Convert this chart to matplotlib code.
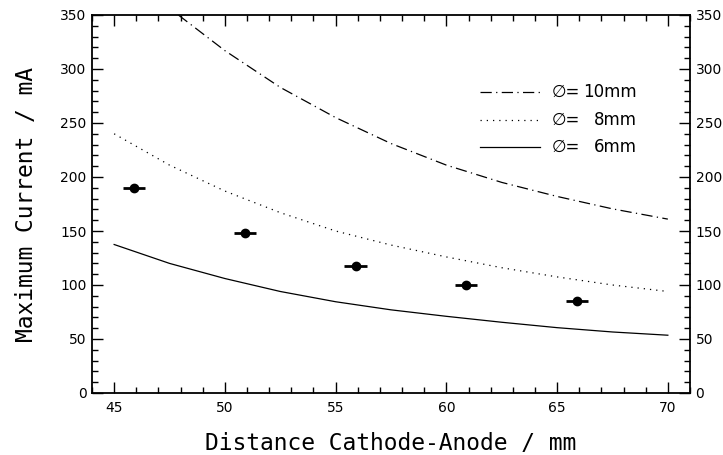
import matplotlib
matplotlib.use("Agg")
import matplotlib.pyplot as plt
from matplotlib.ticker import MultipleLocator

# Measured data points
meas_x = [45.9, 50.9, 55.9, 60.9, 65.9]
meas_y = [190, 148, 118, 100, 85]
meas_xerr = [0.5, 0.5, 0.5, 0.5, 0.5]

# Model curves
x_6 = [45, 47.5, 50, 52.5, 55, 57.5, 60, 62.5, 65, 67.5, 70]
y_6 = [137.5, 120, 106, 94, 84.5, 77, 71, 65.5, 60.5, 56.5, 53.5]
x_8 = [45, 47.5, 50, 52.5, 55, 57.5, 60, 62.5, 65, 67.5, 70]
y_8 = [240, 211, 187, 167, 150, 137, 126, 116, 107.5, 100, 94]
x_10 = [47.9, 50, 52.5, 55, 57.5, 60, 62.5, 65, 67.5, 70]
y_10 = [350, 317, 283, 255, 231, 211, 195, 182, 170.5, 161]

legend_labels = ["10mm", "8mm", "6mm"]

W, H = 723, 455
fig = plt.figure(figsize=(W / 100, H / 100), dpi=100)
ax = fig.add_axes([92 / W, 1 - 393 / H, (690 - 92) / W, (393 - 15) / H])

lw = 0.9
dd = (9, 3.5, 1, 3.5)
dot = (1, 4)
ax.plot(x_10, y_10, color="black", lw=lw, dashes=dd)
ax.plot(x_8, y_8, color="black", lw=lw, dashes=dot)
ax.plot(x_6, y_6, color="black", lw=lw)

ax.errorbar(meas_x, meas_y, xerr=meas_xerr, fmt="o", color="black",
            markersize=6, elinewidth=2.0, capsize=0)

ax.set_xlim(44, 71)
ax.set_ylim(0, 350)

ax.xaxis.set_major_locator(MultipleLocator(5))
ax.xaxis.set_minor_locator(MultipleLocator(1))
ax.yaxis.set_major_locator(MultipleLocator(50))
ax.yaxis.set_minor_locator(MultipleLocator(10))

ax.tick_params(which="both", direction="in", top=True, right=True,
               labelright=True, width=1.0, labelsize=10, pad=4)
ax.tick_params(which="major", length=8)
ax.tick_params(which="minor", length=4)
ax.tick_params(axis="x", pad=6)
for s in ax.spines.values():
    s.set_linewidth(1.3)

ax.set_xlabel("Distance Cathode-Anode / mm", family="DejaVu Sans Mono",
              fontsize=16.5, labelpad=12)
ax.set_ylabel("Maximum Current / mA", family="DejaVu Sans Mono",
              fontsize=16.5, labelpad=16)

# Manual legend
styles = [dict(dashes=dd), dict(dashes=dot), dict()]
rows_y = [0.796, 0.722, 0.651]
for lab, st, yy in zip(legend_labels, styles, rows_y):
    ax.plot([0.649, 0.749], [yy, yy], transform=ax.transAxes,
            color="black", lw=lw, **st)
    ax.text(0.769, yy, "\u2205=", transform=ax.transAxes, va="center",
            ha="left", fontsize=12)
    ax.text(0.911, yy, lab, transform=ax.transAxes, va="center",
            ha="right", fontsize=12)

fig.savefig("out.png", dpi=100)
